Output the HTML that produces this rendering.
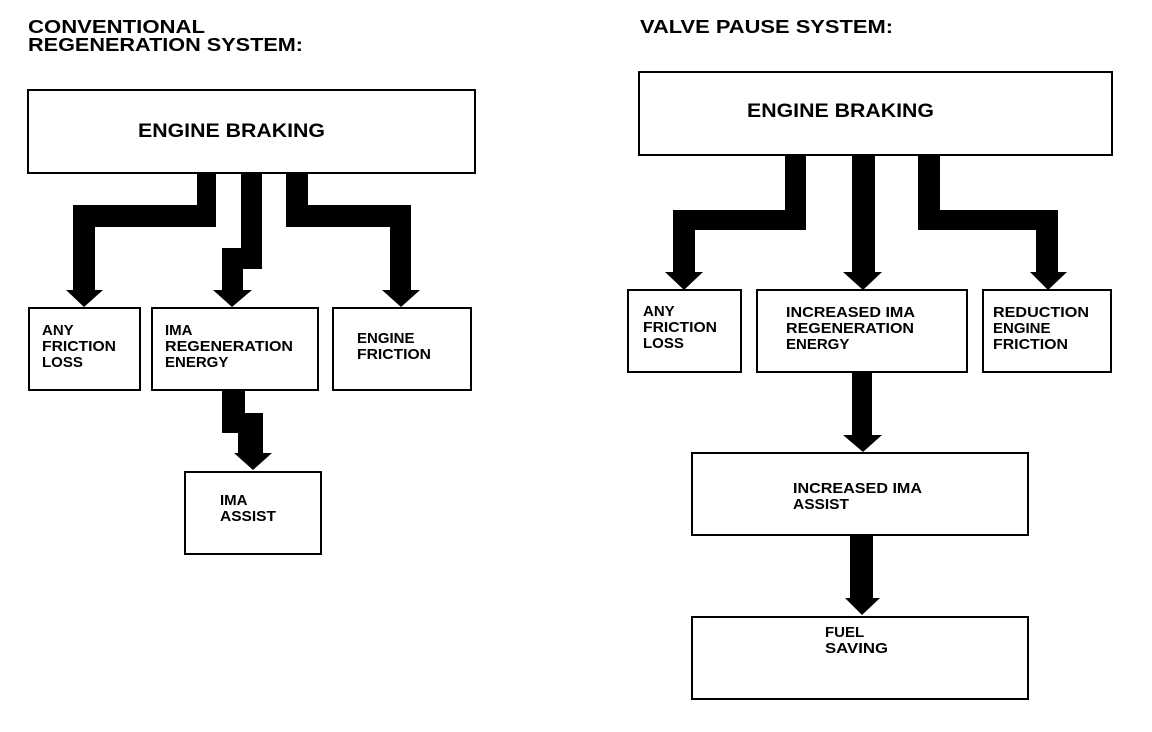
<!DOCTYPE html>
<html><head><meta charset="utf-8"><style>
html,body{margin:0;padding:0;background:#fff;}
svg{display:block;}
text{font-family:"Liberation Sans",Arial,sans-serif;font-weight:bold;fill:#000;}
.t{font-size:18px;}
.b{font-size:15px;}
.bb{font-size:19px;}
rect{fill:#fff;stroke:#000;stroke-width:2;}
</style></head><body>
<svg width="1152" height="732" viewBox="0 0 1152 732" xmlns="http://www.w3.org/2000/svg">
<!-- titles -->
<text class="t" x="28" y="33" textLength="177" lengthAdjust="spacingAndGlyphs">CONVENTIONAL</text>
<text class="t" x="28" y="51" textLength="275" lengthAdjust="spacingAndGlyphs">REGENERATION SYSTEM:</text>
<text class="t" x="640" y="33" textLength="253" lengthAdjust="spacingAndGlyphs">VALVE PAUSE SYSTEM:</text>

<!-- LEFT -->
<rect x="28" y="90" width="447" height="83"/>
<text class="bb" x="138" y="137" textLength="187" lengthAdjust="spacingAndGlyphs">ENGINE BRAKING</text>
<g fill="#000">
  <polygon points="197,173 216,173 216,227 95,227 95,290 103,290 84,307 66,290 73,290 73,205 197,205"/>
  <polygon points="241,173 262,173 262,269 243,269 243,290 252,290 232,307 213,290 222,290 222,248 241,248"/>
  <polygon points="286,173 308,173 308,205 411,205 411,290 420,290 401,307 382,290 390,290 390,227 286,227"/>
  <polygon points="222,390 245,390 245,413 263,413 263,453 272,453 253,470 234,453 238,453 238,433 222,433"/>
</g>
<rect x="29" y="308" width="111" height="82"/>
<rect x="152" y="308" width="166" height="82"/>
<rect x="333" y="308" width="138" height="82"/>
<rect x="185" y="472" width="136" height="82"/>
<text class="b" x="42" y="335">ANY</text>
<text class="b" x="42" y="351" textLength="74" lengthAdjust="spacingAndGlyphs">FRICTION</text>
<text class="b" x="42" y="367">LOSS</text>
<text class="b" x="165" y="335">IMA</text>
<text class="b" x="165" y="351" textLength="128" lengthAdjust="spacingAndGlyphs">REGENERATION</text>
<text class="b" x="165" y="367">ENERGY</text>
<text class="b" x="357" y="343">ENGINE</text>
<text class="b" x="357" y="359" textLength="74" lengthAdjust="spacingAndGlyphs">FRICTION</text>
<text class="b" x="220" y="505">IMA</text>
<text class="b" x="220" y="521" textLength="56" lengthAdjust="spacingAndGlyphs">ASSIST</text>

<!-- RIGHT -->
<rect x="639" y="72" width="473" height="83"/>
<text class="bb" x="747" y="117" textLength="187" lengthAdjust="spacingAndGlyphs">ENGINE BRAKING</text>
<g fill="#000">
  <polygon points="785,155 806,155 806,230 695,230 695,272 703,272 684,290 665,272 673,272 673,210 785,210"/>
  <polygon points="852,155 875,155 875,272 882,272 863,290 843,272 852,272"/>
  <polygon points="918,155 940,155 940,210 1058,210 1058,272 1067,272 1048,290 1030,272 1036,272 1036,230 918,230"/>
  <polygon points="852,372 872,372 872,435 882,435 863,452 843,435 852,435"/>
  <polygon points="850,535 873,535 873,598 880,598 862,615 845,598 850,598"/>
</g>
<rect x="628" y="290" width="113" height="82"/>
<rect x="757" y="290" width="210" height="82"/>
<rect x="983" y="290" width="128" height="82"/>
<rect x="692" y="453" width="336" height="82"/>
<rect x="692" y="617" width="336" height="82"/>
<text class="b" x="643" y="316">ANY</text>
<text class="b" x="643" y="332" textLength="74" lengthAdjust="spacingAndGlyphs">FRICTION</text>
<text class="b" x="643" y="348">LOSS</text>
<text class="b" x="786" y="317" textLength="129" lengthAdjust="spacingAndGlyphs">INCREASED IMA</text>
<text class="b" x="786" y="333" textLength="128" lengthAdjust="spacingAndGlyphs">REGENERATION</text>
<text class="b" x="786" y="349">ENERGY</text>
<text class="b" x="993" y="317" textLength="96" lengthAdjust="spacingAndGlyphs">REDUCTION</text>
<text class="b" x="993" y="333">ENGINE</text>
<text class="b" x="993" y="349" textLength="75" lengthAdjust="spacingAndGlyphs">FRICTION</text>
<text class="b" x="793" y="493" textLength="129" lengthAdjust="spacingAndGlyphs">INCREASED IMA</text>
<text class="b" x="793" y="509" textLength="56" lengthAdjust="spacingAndGlyphs">ASSIST</text>
<text class="b" x="825" y="637">FUEL</text>
<text class="b" x="825" y="653" textLength="63" lengthAdjust="spacingAndGlyphs">SAVING</text>
</svg>
</body></html>
